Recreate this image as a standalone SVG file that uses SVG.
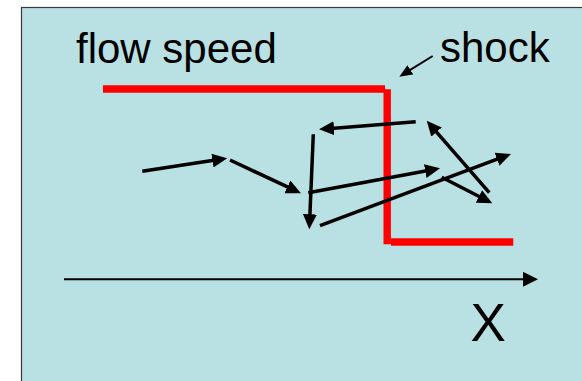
<svg xmlns="http://www.w3.org/2000/svg" width="582" height="381" viewBox="0 0 582 381">
  <style>
    .lbl { font-family: "Liberation Sans", Arial, sans-serif; fill: #000; }
    .red { stroke: #FF0000; stroke-width: 7.4; fill: none; }
    .traj { stroke: #000; stroke-width: 3.5; fill: none; marker-end: url(#head); }
  </style>
  <defs>
    <marker id="head" markerUnits="userSpaceOnUse" markerWidth="15" markerHeight="14" refX="3" refY="7" orient="auto">
      <path d="M0,0 L15,7 L0,14 z" fill="#000"/>
    </marker>
    <marker id="axishead" markerUnits="userSpaceOnUse" markerWidth="15" markerHeight="15" refX="0" refY="7.5" orient="auto">
      <path d="M0,0 L15,7.5 L0,15 z" fill="#000"/>
    </marker>
    <marker id="smallhead" markerUnits="userSpaceOnUse" markerWidth="13" markerHeight="11" refX="3" refY="5.5" orient="auto">
      <path d="M0,0 L13,5.5 L0,11 z" fill="#000"/>
    </marker>
  </defs>

  <rect x="0" y="0" width="582" height="381" fill="#FFFFFF"/>
  <g id="panel">
    <rect x="21.5" y="7.5" width="600" height="400" fill="#B9E0E3" stroke="#3A3A3A" stroke-width="1.2"/>
  </g>

  <g id="flow-speed-profile">
    <line class="red" x1="103" y1="89" x2="385" y2="89"/>
    <line class="red" x1="387.2" y1="89.3" x2="387.2" y2="244.3"/>
    <line class="red" x1="391" y1="242" x2="513.3" y2="242"/>
  </g>

  <g id="labels">
    <text id="label-flow-speed" class="lbl" x="76" y="62.7" font-size="42">flow speed</text>
    <text id="label-shock" class="lbl" x="440" y="61.7" font-size="42">shock</text>
    <text id="label-x" class="lbl" x="470.5" y="341" font-size="53">X</text>
  </g>

  <g id="connectors">
    <line id="shock-pointer" x1="432.7" y1="56" x2="407.8" y2="71.4" stroke="#000" stroke-width="2" marker-end="url(#smallhead)"/>
    <line id="x-axis" x1="64" y1="279.3" x2="523" y2="279.3" stroke="#000" stroke-width="2" marker-end="url(#axishead)"/>
    <line class="traj" x1="142.3" y1="171.3" x2="215.4" y2="160.1"/>
    <line class="traj" x1="230" y1="160" x2="290.1" y2="188.2"/>
    <line class="traj" x1="308.3" y1="192.7" x2="428.2" y2="170.5"/>
    <line class="traj" x1="313.3" y1="134.3" x2="309.8" y2="217.3"/>
    <line class="traj" x1="415.7" y1="121.7" x2="331.0" y2="128.4"/>
    <line class="traj" x1="320" y1="225.7" x2="499.8" y2="158.2"/>
    <line class="traj" x1="489.3" y1="192.7" x2="434.6" y2="129.8"/>
    <line class="traj" x1="441.7" y1="177.3" x2="481.6" y2="197.8"/>
  </g>
</svg>
